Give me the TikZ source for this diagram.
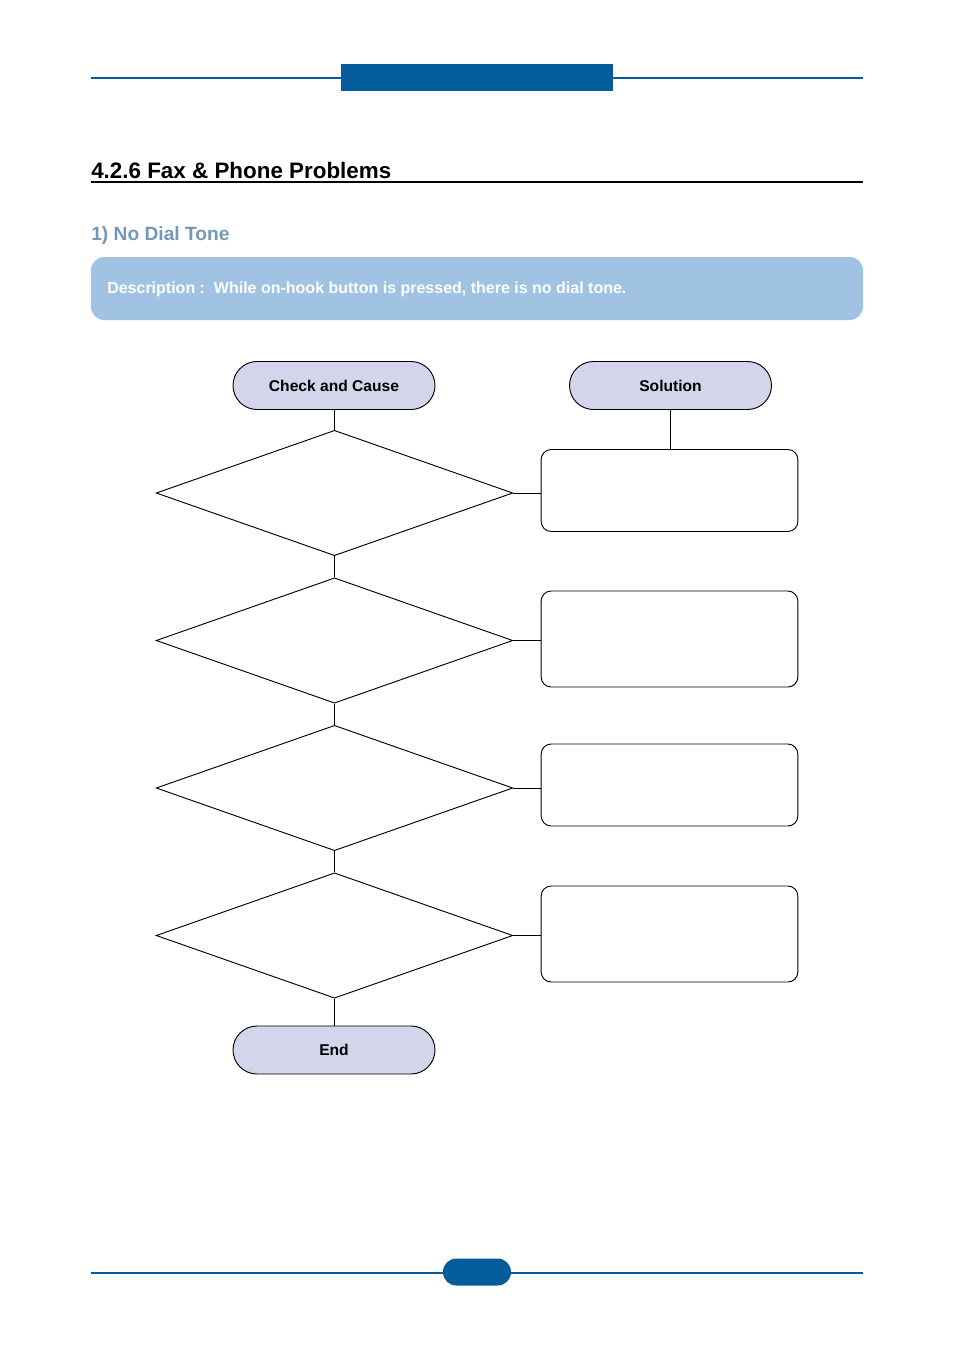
\documentclass[tikz,border=0pt]{standalone}
\usepackage{fontspec}
\setmainfont{Liberation Sans}
\usetikzlibrary{shapes.geometric,shapes.misc,positioning}
\definecolor{bandblue}{HTML}{045C9C}
\definecolor{descblue}{HTML}{A0C3E3}
\definecolor{subgray}{HTML}{7597B5}
\definecolor{pilllilac}{HTML}{D3D6EB}
\tikzset{
  pill/.style={draw=black,line width=0.7pt,fill=pilllilac,rounded rectangle,minimum width=151.5pt,minimum height=36pt,inner sep=0pt,text depth=0pt,font=\bfseries\fontsize{11.7}{13}\selectfont},
  check/.style={draw=black,line width=0.7pt,diamond,aspect=2.85,minimum width=267.5pt,minimum height=94pt,inner sep=0pt},
  fix/.style={draw=black,line width=0.7pt,rounded corners=7.5pt,minimum width=192.5pt,inner sep=0pt},
  link/.style={draw=black,line width=0.7pt},
  bandline/.style={draw=bandblue,line width=1.2pt}
}
\begin{document}
\begin{tikzpicture}[x=0.75pt,y=-0.75pt]
\useasboundingbox (0,0) rectangle (954,1350);
% header and footer
\coordinate (hl) at (91,78);
\coordinate (hr) at (863,78);
\draw[bandline] (hl) -- (hr);
\fill[bandblue] (341,64) rectangle (613,91);
\coordinate (fl) at (91,1273);
\coordinate (fr) at (863,1273);
\draw[bandline] (fl) -- (fr);
\fill[bandblue,rounded corners=10pt] (443,1258.5) rectangle (511,1285.5);
% titles
\node[anchor=base west,inner sep=0pt,font=\bfseries\fontsize{16.8}{20}\selectfont] (title) at (91,178) {4.2.6 Fax \& Phone Problems};
\draw[line width=1.2pt] (91,182) -- (863,182);
\node[anchor=base west,inner sep=0pt,text=subgray,font=\bfseries\fontsize{14.4}{17}\selectfont] (sub) at (91,240) {1) No Dial Tone};
\fill[descblue,rounded corners=10pt] (91,257) rectangle (863,320);
\node[anchor=base west,inner sep=0pt,text=white,font=\bfseries\fontsize{12}{14}\selectfont] (desc) at (107,293) {Description :\ \ While on-hook button is pressed, there is no dial tone.};
% flow chart
\node[pill] (cause) at (334,385.5) {Check and Cause};
\node[pill] (solution) at (670.5,385.5) {Solution};
\node[check] (d1) at (334.5,493) {};
\node[check] (d2) at (334.5,640.5) {};
\node[check] (d3) at (334.5,788) {};
\node[check] (d4) at (334.5,935.5) {};
\node[pill] (end) at (334,1050) {End};
\node[fix,minimum height=61.5pt] (s1) at (669.5,490.5) {};
\node[fix,minimum height=72pt] (s2) at (669.5,639) {};
\node[fix,minimum height=61.5pt] (s3) at (669.5,785) {};
\node[fix,minimum height=72pt] (s4) at (669.5,934) {};
\draw[link] (cause.south -| d1.north) -- (d1.north);
\draw[link] (d1.south) -- (d2.north);
\draw[link] (d2.south) -- (d3.north);
\draw[link] (d3.south) -- (d4.north);
\draw[link] (d4.south) -- (end.north -| d4.south);
\draw[link] (solution.south) -- (s1.north -| solution.south);
\draw[link] (d1.east) -- (d1.east -| s1.west);
\draw[link] (d2.east) -- (d2.east -| s2.west);
\draw[link] (d3.east) -- (d3.east -| s3.west);
\draw[link] (d4.east) -- (d4.east -| s4.west);
\end{tikzpicture}
\end{document}
